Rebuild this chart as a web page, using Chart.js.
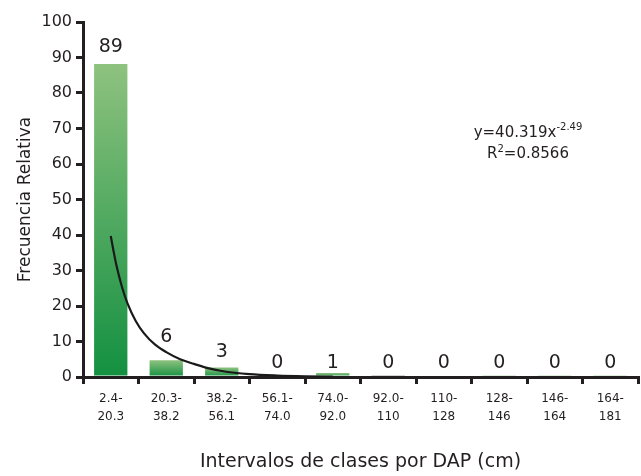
<!DOCTYPE html>
<html>
<head>
<meta charset="utf-8">
<script src="https://cdn.jsdelivr.net/npm/chart.js@4"></script>
<style>
  html, body { margin: 0; padding: 0; background: #fff; }
  #wrap { width: 641px; height: 476px; position: relative; }
</style>
</head>
<body>
<div id="wrap"><canvas id="c" width="641" height="476"></canvas></div>
<script>
// ---- data ----
const categories = [["2.4-","20.3"],["20.3-","38.2"],["38.2-","56.1"],["56.1-","74.0"],["74.0-","92.0"],["92.0-","110"],["110-","128"],["128-","146"],["146-","164"],["164-","181"]];
const barHeights = [88.2, 4.7, 2.7, 0.5, 1.1, 0.5, 0.4, 0.5, 0.5, 0.5];
const barLabels  = ["89","6","3","0","1","0","0","0","0","0"];
// value level of each label's baseline, as placed in the reference
const labelLevels = [91.5, 9.9, 5.6, 2.5, 2.5, 2.5, 2.5, 2.5, 2.5, 2.5];
const barIsGray  = [false,false,false,true,false,true,true,false,false,false];
const trendX = [1, 1.05, 1.1, 1.2, 1.3, 1.45, 1.6, 1.8, 2, 2.25, 2.5, 2.75, 3, 3.5, 4, 4.5, 5];
const trendY = [39.7, 35.5, 31.6, 25.5, 20.8, 15.8, 12.3, 9.1, 7.0, 5.0, 3.7, 2.5, 1.7, 0.8, 0.4, 0.2, 0.1];
const yTicks = [0,10,20,30,40,50,60,70,80,90,100];
const equationParts = ["y=40.319x", "-2.49", "R", "2", "=0.8566"];

const FONT = "'DejaVu Sans', sans-serif";
const TXT = '#231f20';

function barColor(ctx) {
  const i = ctx.dataIndex;
  if (barIsGray[i]) return i === 6 ? '#333333' : '#555555';
  const chart = ctx.chart;
  if (!chart.chartArea || !chart.scales.y) return '#4da75b';
  const ys = chart.scales.y;
  const top = ys.getPixelForValue(barHeights[i]);
  const bot = ys.getPixelForValue(0);
  if (!(bot - top > 0.5)) return '#4da75b';
  const g = chart.ctx.createLinearGradient(0, top, 0, bot);
  g.addColorStop(0, '#8ec27f');
  g.addColorStop(1, '#139041');
  return g;
}

const labelPlugin = {
  id: 'barLabels',
  afterDatasetsDraw(chart) {
    const ctx = chart.ctx;
    const meta = chart.getDatasetMeta(0);
    const ys = chart.scales.y;
    ctx.save();
    ctx.fillStyle = TXT;
    ctx.font = "19px " + FONT;
    ctx.textAlign = 'center';
    ctx.textBaseline = 'alphabetic';
    meta.data.forEach((el, i) => {
      ctx.fillText(barLabels[i], el.x, ys.getPixelForValue(labelLevels[i]));
    });
    // equation
    const cx = 528, y1 = 137, y2 = 158;
    const big = "15px " + FONT, small = "10px " + FONT;
    ctx.textAlign = 'left';
    ctx.font = big;
    const w1 = ctx.measureText(equationParts[0]).width;
    ctx.font = small;
    const s1 = ctx.measureText(equationParts[1]).width;
    let x0 = cx - (w1 + s1) / 2;
    ctx.font = big;
    ctx.fillText(equationParts[0], x0, y1);
    ctx.font = small;
    ctx.fillText(equationParts[1], x0 + w1, y1 - 7);
    ctx.font = big;
    const wr = ctx.measureText(equationParts[2]).width;
    const wr2 = ctx.measureText(equationParts[4]).width;
    ctx.font = small;
    const ws = ctx.measureText(equationParts[3]).width;
    x0 = cx - (wr + ws + wr2) / 2;
    ctx.font = big;
    ctx.fillText(equationParts[2], x0, y2);
    ctx.font = small;
    ctx.fillText(equationParts[3], x0 + wr, y2 - 6);
    ctx.font = big;
    ctx.fillText(equationParts[4], x0 + wr + ws, y2);
    ctx.restore();
  }
};

new Chart(document.getElementById('c'), {
  data: {
    labels: categories,
    datasets: [
      {
        type: 'bar',
        data: barHeights,
        backgroundColor: barColor,
        borderWidth: 0,
        barPercentage: 0.6,
        categoryPercentage: 1.0,
        grouped: false,
        order: 2
      },
      {
        type: 'line',
        data: trendX.map((x, i) => ({ x: x, y: trendY[i] })),
        xAxisID: 'x2',
        borderColor: '#1a1a1a',
        borderWidth: 2.2,
        pointRadius: 0,
        cubicInterpolationMode: 'monotone',
        fill: false,
        order: 1
      }
    ]
  },
  options: {
    responsive: false,
    animation: false,
    layout: { padding: { top: 22, right: 3, left: 0, bottom: 0 } },
    plugins: { legend: { display: false }, tooltip: { enabled: false } },
    scales: {
      x: {
        type: 'category',
        offset: true,
        grid: { display: true, drawOnChartArea: false, drawTicks: true, tickLength: 7, tickWidth: 3, lineWidth: 3, color: '#231f20', tickColor: '#231f20', offset: true },
        border: { display: true, color: '#231f20', width: 3 },
        ticks: { color: TXT, font: { family: FONT, size: 12, lineHeight: 1.5 }, maxRotation: 0, autoSkip: false, padding: 6 },
        title: { display: true, text: 'Intervalos de clases por DAP (cm)', color: TXT, font: { family: FONT, size: 19 }, padding: { top: 10, bottom: 3 } },
        afterFit(scale) { scale.height = 99; }
      },
      x2: {
        type: 'linear',
        display: false,
        min: 0.5,
        max: 10.5
      },
      y: {
        min: 0,
        max: 100,
        afterBuildTicks(scale) { scale.ticks = yTicks.map(v => ({ value: v })); },
        grid: { display: true, drawOnChartArea: false, drawTicks: true, tickLength: 7, tickWidth: 3, lineWidth: 3, color: '#231f20', tickColor: '#231f20' },
        border: { display: true, color: '#231f20', width: 3 },
        ticks: { color: TXT, font: { family: FONT, size: 16 }, padding: 4 },
        title: { display: true, text: 'Frecuencia Relativa', color: TXT, font: { family: FONT, size: 17 }, padding: { top: 15, bottom: 8 } },
        afterFit(scale) { scale.width = 83; }
      }
    }
  },
  plugins: [labelPlugin]
});
</script>
</body>
</html>
